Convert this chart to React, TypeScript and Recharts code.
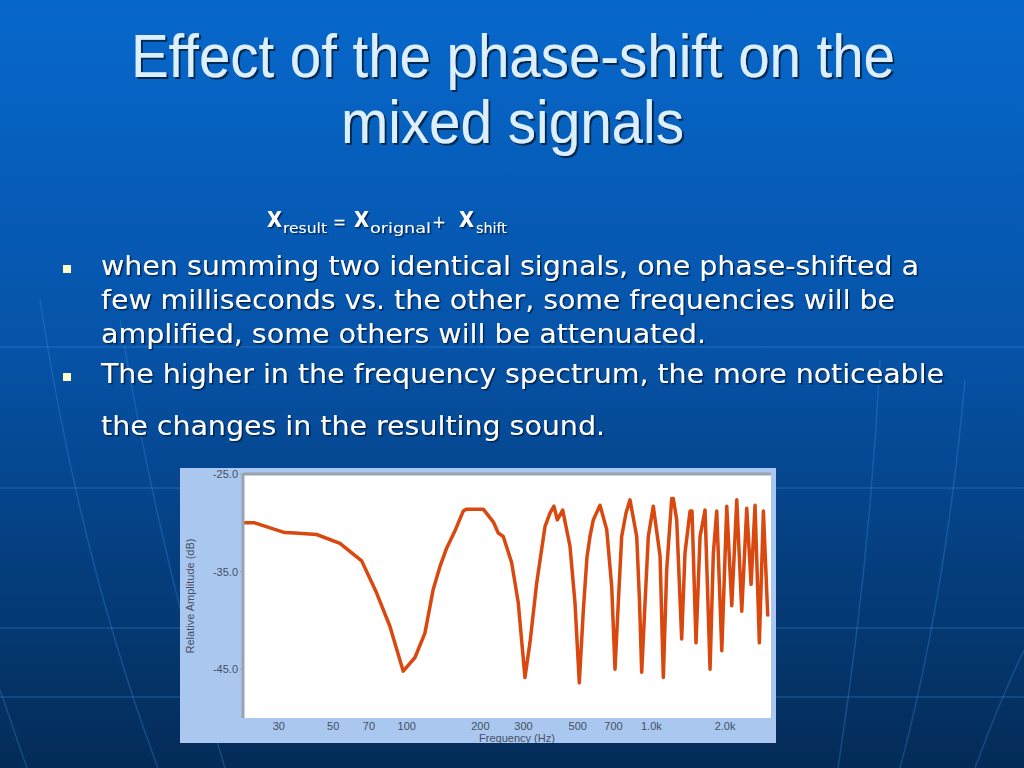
import React from 'react';
import { LineChart, Line, XAxis, YAxis, CartesianGrid, ReferenceLine } from 'recharts';

// readings: frequency (Hz) and relative amplitude (dB)
const freqHz = [
  21.4, 23.9, 31.7, 34.9, 42.8, 53.3, 65.4, 75.3, 85.3, 96.7, 108, 118.6, 128.3, 136.6, 145.5,
  158.8, 170.1, 175.7, 205.4, 225.7, 236.6, 248, 268.4, 285.6, 304.2, 318.8, 339.6, 367.2,
  384.9, 399.6, 412.3, 433.9, 464.7, 487.1, 507.3, 526.8, 545.4, 561, 578.8, 616.6, 656.7,
  688.2, 710, 732.3, 756.1, 787.4, 817.6, 871, 894, 912.9, 941.9, 971.4, 1018, 1085, 1119,
  1155, 1211, 1229, 1269, 1330, 1372, 1439, 1466, 1522, 1581, 1657, 1737, 1792, 1850, 1940,
  2033, 2131, 2234, 2341, 2454, 2556, 2653, 2763, 2870, 2991,
];
const amplitudeDb = [
  -30.0, -30.0, -31.0, -31.05, -31.2, -32.1, -33.9, -37.2, -40.6, -45.2, -43.8, -41.3, -36.8, -34.5, -32.6,
  -30.6, -28.8, -28.6, -28.6, -29.9, -31.05, -31.4, -34.1, -38.2, -45.85, -42.3, -36.2, -30.4,
  -29.0, -28.3, -29.7, -28.7, -32.4, -38.2, -46.4, -39.0, -33.5, -31.4, -29.7, -28.2, -30.7,
  -36.5, -45.0, -38.2, -31.4, -29.0, -27.65, -31.4, -38.0, -45.3, -38.2, -31.4, -28.3, -33.4, -45.85,
  -34.8, -27.5, -27.5, -29.7, -41.9, -33.1, -28.8, -28.8, -42.3, -31.4, -28.7, -45.0, -33.1, -28.8, -43.1,
  -28.3, -38.5, -27.65, -39.05, -28.5, -36.3, -28.2, -42.3, -28.8, -39.6,
];
const freqTicks = [30, 50, 70, 100, 200, 300, 500, 700, 1000, 2000];
const dbTicks = [-25, -35, -45];

const bulletLines = [
  'when summing two identical signals, one phase-shifted a',
  'few milliseconds vs. the other, some frequencies will be',
  'amplified, some others will be attenuated.',
  'The higher in the frequency spectrum, the more noticeable',
  'the changes in the resulting sound.',
];

const data = freqHz.map((f, i) => ({ f, db: amplitudeDb[i] }));

const tickStyle = { fontFamily: 'Liberation Sans, Arial, sans-serif', fontSize: 11, fill: '#465062' };
const fmtFreq = (v: number) => (v >= 1000 ? `${(v / 1000).toFixed(1)}k` : `${v}`);

const Slide = () => (
  <svg width={1024} height={768} style={{ position: 'absolute', left: 0, top: 0 }}>
    <defs>
      <linearGradient id="bg" x1="0" y1="0" x2="0" y2="1">
        <stop offset="0" stopColor="#0768cc" />
        <stop offset="0.45" stopColor="#0653a8" />
        <stop offset="1" stopColor="#042b57" />
      </linearGradient>
      <filter id="shadow" x="-5%" y="-20%" width="110%" height="150%">
        <feDropShadow dx="2" dy="2" stdDeviation="0.6" floodColor="#021a3a" floodOpacity="0.85" />
      </filter>
      <filter id="shadowSm" x="-5%" y="-20%" width="110%" height="150%">
        <feDropShadow dx="1.5" dy="1.5" stdDeviation="0.5" floodColor="#021a3a" floodOpacity="0.8" />
      </filter>
    </defs>
    <rect width={1024} height={768} fill="url(#bg)" />
    <g stroke="#3f8ee6" strokeOpacity={0.3} strokeWidth={1.5} fill="none">
      <line x1={0} y1={347} x2={1024} y2={347} />
      <line x1={0} y1={488} x2={1024} y2={488} />
      <line x1={0} y1={628} x2={1024} y2={628} />
      <line x1={0} y1={697} x2={1024} y2={697} />
      <path d="M 40 300 Q 80 560 158 768" />
      <path d="M 120 320 Q 160 560 225 768" />
      <path d="M 0 690 Q 14 730 27 768" />
      <path d="M 880 360 Q 870 560 838 768" />
      <path d="M 965 380 Q 945 600 900 768" />
      <path d="M 1024 650 Q 1000 700 975 768" />
    </g>

    <g fill="#dcefff" fontFamily="Liberation Sans, Arial, sans-serif" fontSize={62} textAnchor="start" filter="url(#shadow)">
      <text x={131} y={77} textLength={764} lengthAdjust="spacingAndGlyphs">Effect of the phase-shift on the</text>
      <text x={341} y={143} textLength={343} lengthAdjust="spacingAndGlyphs">mixed signals</text>
    </g>

    <g fill="#ffffff" fontFamily="DejaVu Sans, Verdana, sans-serif" filter="url(#shadowSm)">
      <text x={267} y={227} fontSize={22} fontWeight="bold" textLength={15} lengthAdjust="spacingAndGlyphs">X</text>
      <text x={283} y={233} fontSize={14} textLength={44} lengthAdjust="spacingAndGlyphs">result</text>
      <text x={333} y={228} fontSize={18} textLength={13} lengthAdjust="spacingAndGlyphs">=</text>
      <text x={354} y={227} fontSize={22} fontWeight="bold" textLength={15} lengthAdjust="spacingAndGlyphs">X</text>
      <text x={370} y={233} fontSize={14} textLength={61} lengthAdjust="spacingAndGlyphs">orignal</text>
      <text x={432} y={228} fontSize={18} textLength={14} lengthAdjust="spacingAndGlyphs">+</text>
      <text x={459} y={227} fontSize={22} fontWeight="bold" textLength={15} lengthAdjust="spacingAndGlyphs">X</text>
      <text x={476} y={233} fontSize={14} textLength={31} lengthAdjust="spacingAndGlyphs">shift</text>

      <text x={101} y={275} fontSize={26} textLength={818} lengthAdjust="spacingAndGlyphs">{bulletLines[0]}</text>
      <text x={101} y={309} fontSize={26} textLength={794} lengthAdjust="spacingAndGlyphs">{bulletLines[1]}</text>
      <text x={101} y={343} fontSize={26} textLength={605} lengthAdjust="spacingAndGlyphs">{bulletLines[2]}</text>
      <text x={101} y={383} fontSize={26} textLength={843} lengthAdjust="spacingAndGlyphs">{bulletLines[3]}</text>
      <text x={101} y={435} fontSize={26} textLength={504} lengthAdjust="spacingAndGlyphs">{bulletLines[4]}</text>
    </g>
    <rect x={63} y={265} width={8} height={8} fill="#ffffcc" />
    <rect x={63} y={373} width={8} height={8} fill="#ffffcc" />
  </svg>
);

export default function App() {
  return (
    <div style={{ position: 'absolute', left: 0, top: 0, width: 1024, height: 768, overflow: 'hidden' }}>
      <Slide />
      <div style={{ position: 'absolute', left: 180, top: 468, width: 596, height: 275, background: '#a9c7ef' }}>
        <LineChart width={596} height={275} data={data} margin={{ top: 6, right: 5, bottom: 0, left: 0 }}>
          <CartesianGrid horizontal={false} vertical={false} fill="#ffffff" />
          <XAxis
            dataKey="f"
            type="number"
            scale="log"
            domain={[21.4, 3083]}
            allowDataOverflow
            ticks={freqTicks}
            tickFormatter={fmtFreq}
            interval={0}
            height={25}
            axisLine={false}
            tickLine={false}
            tickSize={2}
            tickMargin={2}
            tick={tickStyle}
            label={{ value: 'Frequency (Hz)', position: 'insideBottom', offset: 1, dx: 10, style: { ...tickStyle, fontSize: 11 } }}
          />
          <YAxis
            type="number"
            domain={[-50, -25]}
            ticks={dbTicks}
            tickFormatter={(v: number) => v.toFixed(1)}
            width={63}
            axisLine={{ stroke: '#9aa3b0', strokeWidth: 3 }}
            tickLine={{ stroke: '#9aa3b0' }}
            tickSize={3}
            tick={tickStyle}
            label={{ value: 'Relative Amplitude (dB)', angle: -90, position: 'insideLeft', offset: 10, style: { ...tickStyle, textAnchor: 'middle' } }}
          />
          <ReferenceLine y={-25} stroke="#9aa3b0" strokeWidth={3} />
          <Line
            type="linear"
            dataKey="db"
            stroke="#d9480f"
            strokeWidth={3.5}
            strokeLinejoin="round"
            dot={false}
            isAnimationActive={false}
          />
        </LineChart>
      </div>
    </div>
  );
}
